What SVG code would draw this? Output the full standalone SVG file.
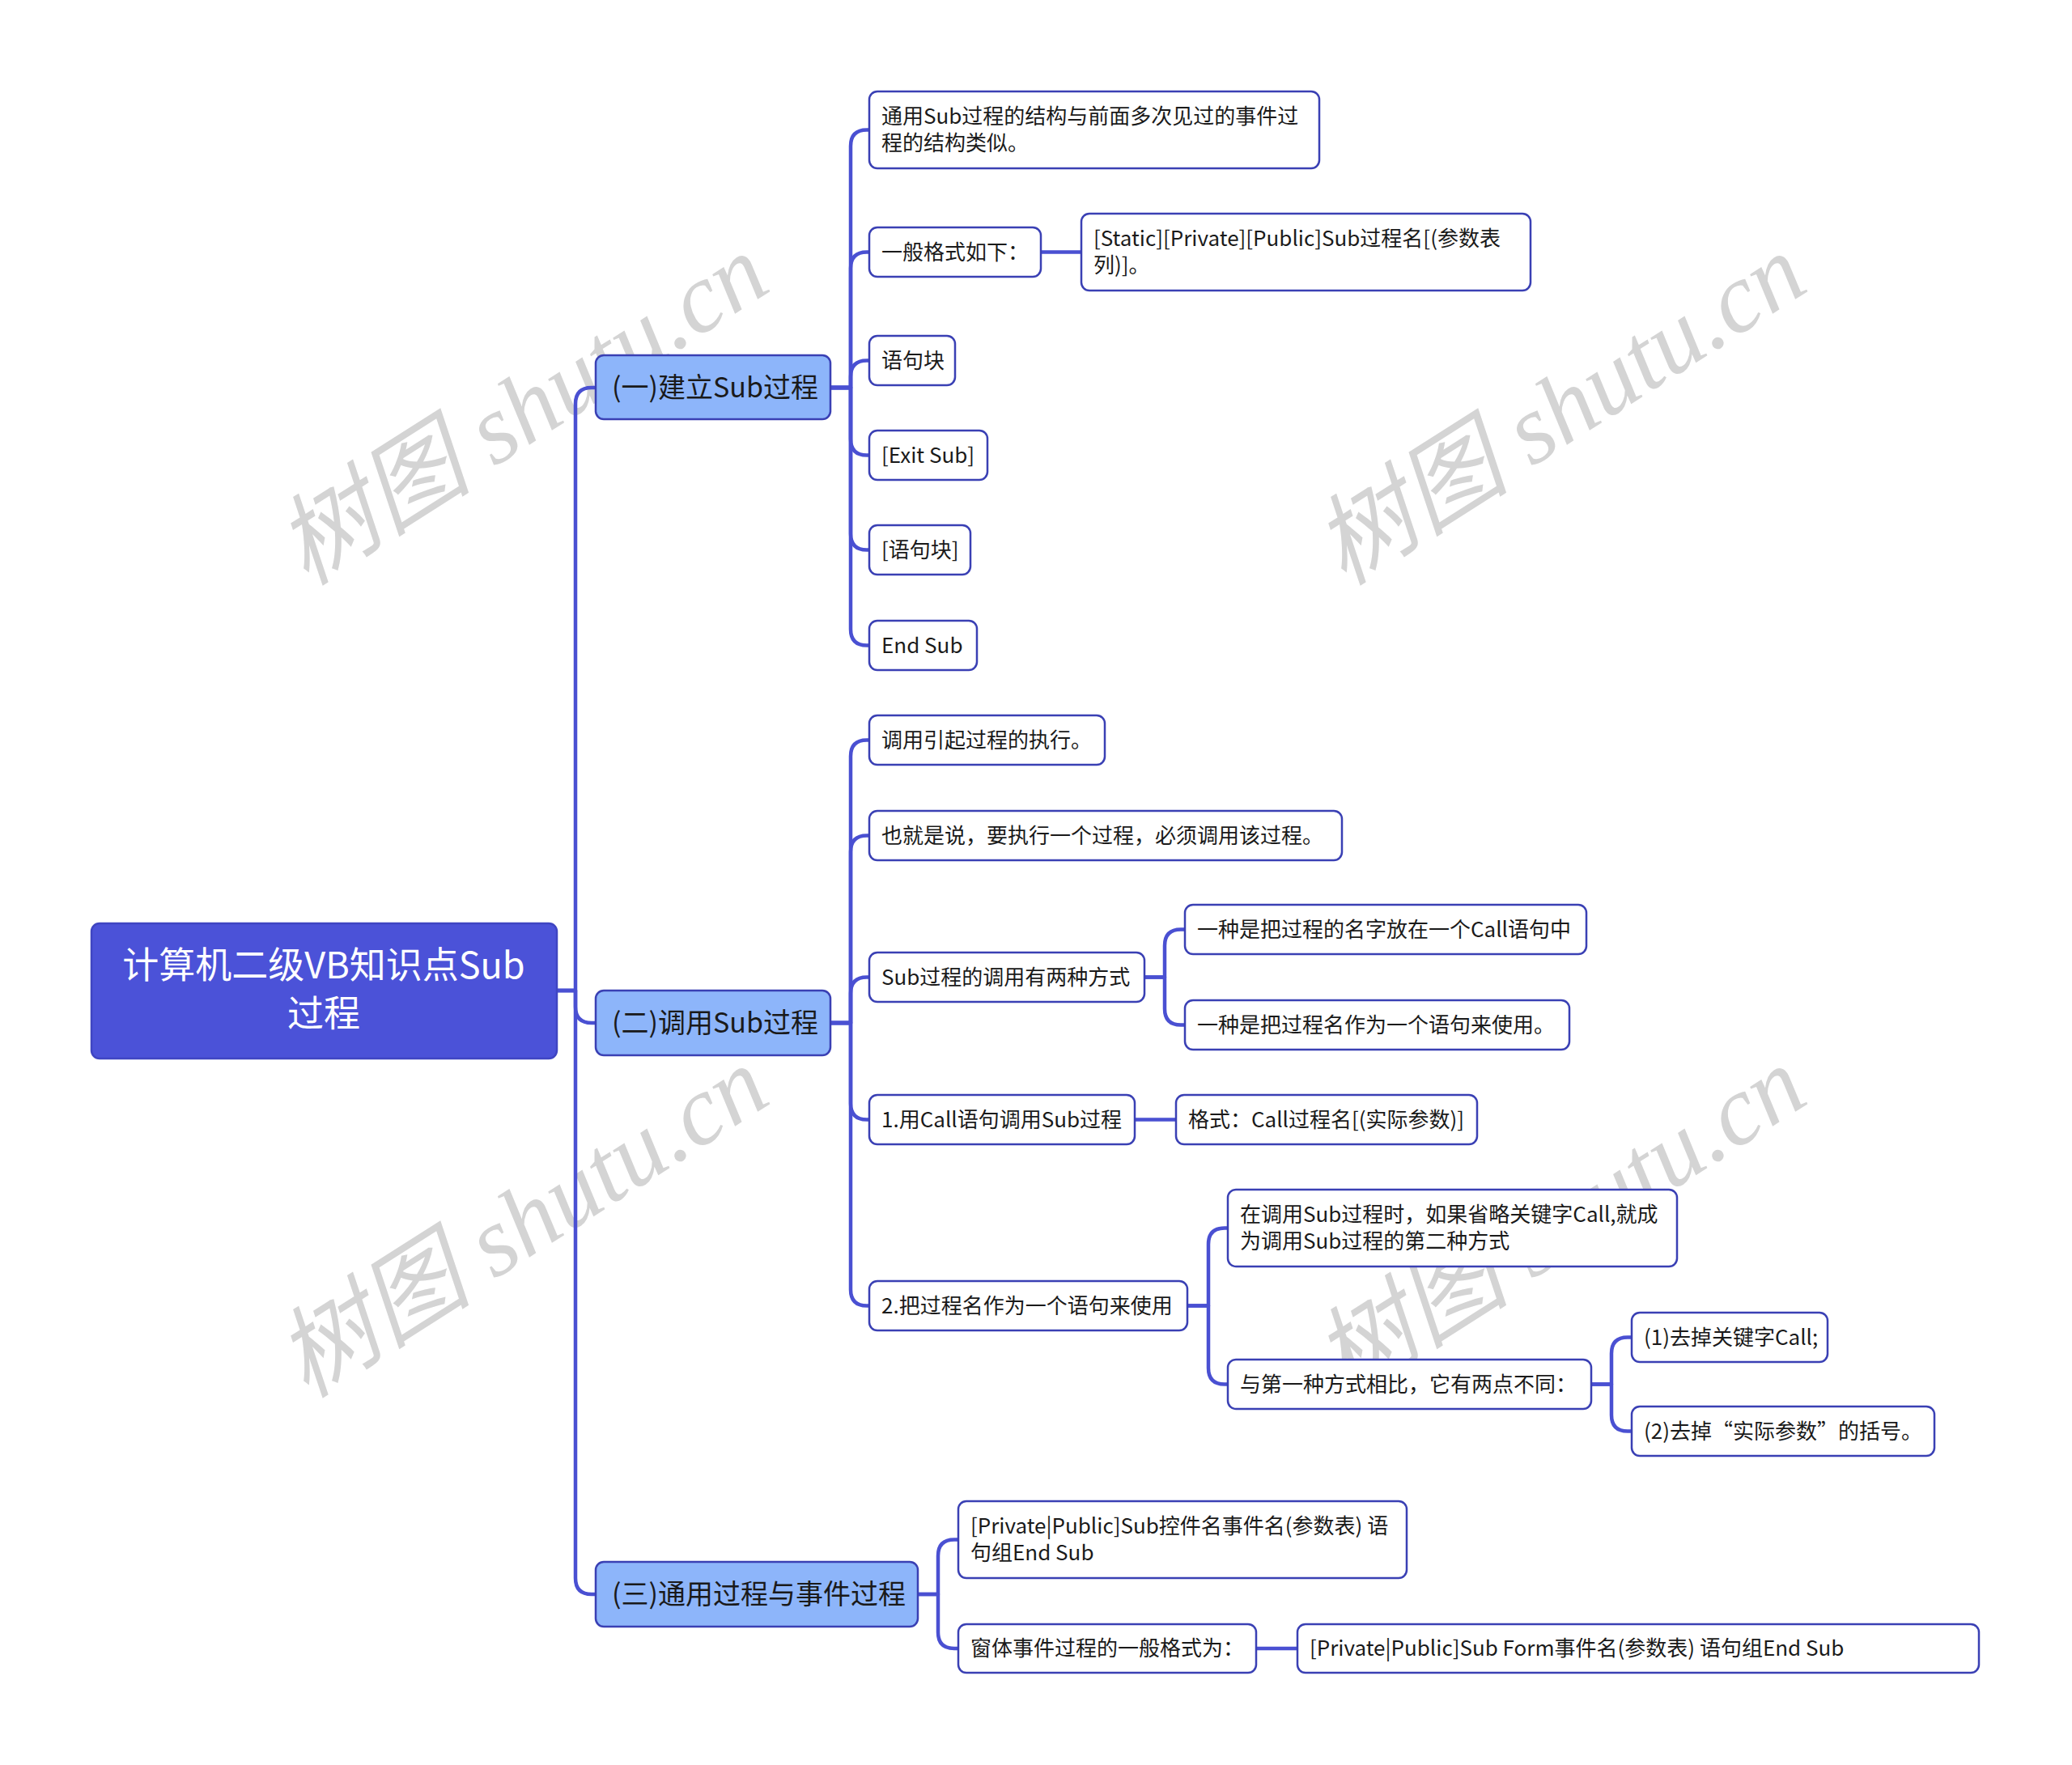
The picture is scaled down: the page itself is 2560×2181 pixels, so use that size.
<svg xmlns="http://www.w3.org/2000/svg" width="2560" height="2181" viewBox="0 0 2560 2181">
<style>
.bg{fill:#ffffff}
.wm{font-family:"Liberation Serif","Noto Sans CJK SC",serif;font-style:italic;font-size:122px;fill:#d4d4d4}
.root rect{fill:#4b52d8;stroke:#3f45c2;stroke-width:2.5}
.root text{font-family:"Noto Sans CJK SC","Noto Sans",sans-serif;font-size:45px;fill:#ffffff;text-anchor:middle}
.br rect{fill:#8db5fa;stroke:#3a40b4;stroke-width:2.5}
.br text{font-family:"Noto Sans CJK SC","Noto Sans",sans-serif;font-size:34px;fill:#1a1a1a}
.lf rect{fill:#ffffff;stroke:#3a40b4;stroke-width:2.5}
.lf text{font-family:"Noto Sans CJK SC","Noto Sans",sans-serif;font-size:26px;fill:#1a1a1a}
.cn path{fill:none;stroke:#4a50d2;stroke-width:4.5;stroke-linecap:round;stroke-linejoin:round}
</style>
<rect class="bg" x="0" y="0" width="2560" height="2181"/>
<g id="watermarks">
<text class="wm" transform="translate(645,506) rotate(-32.5)" text-anchor="middle" dominant-baseline="central">树图 shutu.cn</text>
<text class="wm" transform="translate(1927,506) rotate(-32.5)" text-anchor="middle" dominant-baseline="central">树图 shutu.cn</text>
<text class="wm" transform="translate(645,1510) rotate(-32.5)" text-anchor="middle" dominant-baseline="central">树图 shutu.cn</text>
<text class="wm" transform="translate(1927,1510) rotate(-32.5)" text-anchor="middle" dominant-baseline="central">树图 shutu.cn</text>
</g>
<g id="connectors" class="cn">
<path d="M688,1224 H711 V499 Q711,479 731,479 H736"/>
<path d="M688,1224 H711 V1244 Q711,1264 731,1264 H736"/>
<path d="M688,1224 H711 V1950 Q711,1970 731,1970 H736"/>
<path d="M1026,479 H1051 V180.5 Q1051,160.5 1071,160.5 H1074"/>
<path d="M1026,479 H1051 V331.5 Q1051,311.5 1071,311.5 H1074"/>
<path d="M1026,479 H1051 V465.5 Q1051,445.5 1071,445.5 H1074"/>
<path d="M1026,479 H1051 V542.5 Q1051,562.5 1071,562.5 H1074"/>
<path d="M1026,479 H1051 V659.5 Q1051,679.5 1071,679.5 H1074"/>
<path d="M1026,479 H1051 V777.5 Q1051,797.5 1071,797.5 H1074"/>
<path d="M1286,311.5 H1336"/>
<path d="M1026,1264 H1051 V934.5 Q1051,914.5 1071,914.5 H1074"/>
<path d="M1026,1264 H1051 V1052.5 Q1051,1032.5 1071,1032.5 H1074"/>
<path d="M1026,1264 H1051 V1227.5 Q1051,1207.5 1071,1207.5 H1074"/>
<path d="M1026,1264 H1051 V1363.5 Q1051,1383.5 1071,1383.5 H1074"/>
<path d="M1026,1264 H1051 V1593.5 Q1051,1613.5 1071,1613.5 H1074"/>
<path d="M1414,1207.5 H1439 V1168.5 Q1439,1148.5 1459,1148.5 H1464"/>
<path d="M1414,1207.5 H1439 V1246.5 Q1439,1266.5 1459,1266.5 H1464"/>
<path d="M1402,1383.5 H1453"/>
<path d="M1467,1613.5 H1493 V1537.5 Q1493,1517.5 1513,1517.5 H1517"/>
<path d="M1467,1613.5 H1493 V1690.5 Q1493,1710.5 1513,1710.5 H1517"/>
<path d="M1966,1710.5 H1991 V1672.5 Q1991,1652.5 2011,1652.5 H2016"/>
<path d="M1966,1710.5 H1991 V1748.5 Q1991,1768.5 2011,1768.5 H2016"/>
<path d="M1134,1970 H1159 V1922.5 Q1159,1902.5 1179,1902.5 H1184"/>
<path d="M1134,1970 H1159 V2017 Q1159,2037 1179,2037 H1184"/>
<path d="M1552,2037 H1603"/>
</g>
<g id="root" class="root">
<rect x="113" y="1141" width="575" height="167" rx="10"/>
<text x="400" y="1209">计算机二级VB知识点Sub</text>
<text x="400" y="1269">过程</text>
</g>
<g id="b1" class="br">
<rect x="736" y="439" width="290" height="79" rx="10"/>
<text x="756" y="491">(一)建立Sub过程</text>
</g>
<g id="b2" class="br">
<rect x="736" y="1224" width="290" height="80" rx="10"/>
<text x="756" y="1276">(二)调用Sub过程</text>
</g>
<g id="b3" class="br">
<rect x="736" y="1930" width="398" height="80" rx="10"/>
<text x="756" y="1982">(三)通用过程与事件过程</text>
</g>
<g id="c1" class="lf">
<rect x="1074" y="113" width="556" height="95" rx="10"/>
<text x="1089" y="153">通用Sub过程的结构与前面多次见过的事件过</text>
<text x="1089" y="186">程的结构类似。</text>
</g>
<g id="c2" class="lf">
<rect x="1074" y="281" width="212" height="61" rx="10"/>
<text x="1089" y="320.5">一般格式如下：</text>
</g>
<g id="c2a" class="lf">
<rect x="1336" y="264" width="555" height="95" rx="10"/>
<text x="1351" y="304">[Static][Private][Public]Sub过程名[(参数表</text>
<text x="1351" y="337">列)]。</text>
</g>
<g id="c3" class="lf">
<rect x="1074" y="415" width="106" height="61" rx="10"/>
<text x="1089" y="454.5">语句块</text>
</g>
<g id="c4" class="lf">
<rect x="1074" y="532" width="146" height="61" rx="10"/>
<text x="1089" y="571.5">[Exit Sub]</text>
</g>
<g id="c5" class="lf">
<rect x="1074" y="649" width="125" height="61" rx="10"/>
<text x="1089" y="688.5">[语句块]</text>
</g>
<g id="c6" class="lf">
<rect x="1074" y="767" width="133" height="61" rx="10"/>
<text x="1089" y="806.5">End Sub</text>
</g>
<g id="d1" class="lf">
<rect x="1074" y="884" width="291" height="61" rx="10"/>
<text x="1089" y="923.5">调用引起过程的执行。</text>
</g>
<g id="d2" class="lf">
<rect x="1074" y="1002" width="584" height="61" rx="10"/>
<text x="1089" y="1041.5">也就是说，要执行一个过程，必须调用该过程。</text>
</g>
<g id="d3" class="lf">
<rect x="1074" y="1177" width="340" height="61" rx="10"/>
<text x="1089" y="1216.5">Sub过程的调用有两种方式</text>
</g>
<g id="d3a" class="lf">
<rect x="1464" y="1118" width="496" height="61" rx="10"/>
<text x="1479" y="1157.5">一种是把过程的名字放在一个Call语句中</text>
</g>
<g id="d3b" class="lf">
<rect x="1464" y="1236" width="475" height="61" rx="10"/>
<text x="1479" y="1275.5">一种是把过程名作为一个语句来使用。</text>
</g>
<g id="d4" class="lf">
<rect x="1074" y="1353" width="328" height="61" rx="10"/>
<text x="1089" y="1392.5">1.用Call语句调用Sub过程</text>
</g>
<g id="d4a" class="lf">
<rect x="1453" y="1353" width="372" height="61" rx="10"/>
<text x="1468" y="1392.5">格式：Call过程名[(实际参数)]</text>
</g>
<g id="d5" class="lf">
<rect x="1074" y="1583" width="393" height="61" rx="10"/>
<text x="1089" y="1622.5">2.把过程名作为一个语句来使用</text>
</g>
<g id="d5a" class="lf">
<rect x="1517" y="1470" width="555" height="95" rx="10"/>
<text x="1532" y="1510">在调用Sub过程时，如果省略关键字Call,就成</text>
<text x="1532" y="1543">为调用Sub过程的第二种方式</text>
</g>
<g id="d5b" class="lf">
<rect x="1517" y="1680" width="449" height="61" rx="10"/>
<text x="1532" y="1719.5">与第一种方式相比，它有两点不同：</text>
</g>
<g id="d5b1" class="lf">
<rect x="2016" y="1622" width="242" height="61" rx="10"/>
<text x="2031" y="1661.5">(1)去掉关键字Call;</text>
</g>
<g id="d5b2" class="lf">
<rect x="2016" y="1738" width="374" height="61" rx="10"/>
<text x="2031" y="1777.5">(2)去掉“实际参数”的括号。</text>
</g>
<g id="e1" class="lf">
<rect x="1184" y="1855" width="554" height="95" rx="10"/>
<text x="1199" y="1895">[Private|Public]Sub控件名事件名(参数表) 语</text>
<text x="1199" y="1928">句组End Sub</text>
</g>
<g id="e2" class="lf">
<rect x="1184" y="2007" width="368" height="60" rx="10"/>
<text x="1199" y="2046">窗体事件过程的一般格式为：</text>
</g>
<g id="e2a" class="lf">
<rect x="1603" y="2007" width="842" height="60" rx="10"/>
<text x="1618" y="2046">[Private|Public]Sub Form事件名(参数表) 语句组End Sub</text>
</g>
</svg>
